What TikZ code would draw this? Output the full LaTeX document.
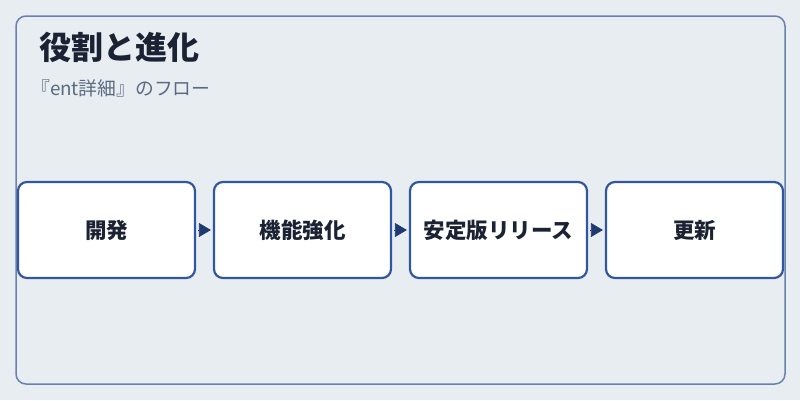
\documentclass[tikz,border=0pt]{standalone}
\usepackage{fontspec}
\setmainfont{Noto Sans CJK JP}
\usetikzlibrary{arrows.meta,positioning}
\definecolor{panelbg}{HTML}{E8EDF2}
\definecolor{panelline}{HTML}{6A82AB}
\definecolor{boxline}{HTML}{3356A0}
\definecolor{navy}{HTML}{1F3A6E}
\definecolor{ink}{HTML}{1A2233}
\definecolor{subink}{HTML}{5A6A80}
\tikzstyle{panel} = [draw=panelline, line width=1.5pt, rounded corners=10pt, fill=panelbg]
\tikzstyle{stagebox} = [draw=boxline, line width=2.2pt, rectangle, rounded corners=9pt, fill=white, minimum width=177pt, minimum height=96pt, text=ink, font=\fontsize{21.5}{25}\selectfont\bfseries, align=center]
\tikzstyle{arr} = [draw=navy, line width=0.8pt, -{Triangle[length=12pt,width=14pt]}, color=navy, shorten >=2pt, shorten <=2pt]

\begin{document}
\begin{tikzpicture}[x=1pt, y=-1pt, node distance=196pt]
    \useasboundingbox (0,0) rectangle (800,400);
    \fill[panelbg] (0,0) rectangle (800,400);
    \draw[panel] (16,16) rectangle (785,384);

    \node[anchor=west, inner sep=0pt, text=ink, font=\fontsize{32}{37}\selectfont\bfseries] (title) at (39,47) {役割と進化};
    \node[anchor=west, inner sep=0pt, text=subink, font=\fontsize{18.8}{22}\selectfont] (subtitle) at (31,88) {『ent詳細』のフロー};

    \node[stagebox] (s1) at (106.5,230) {開発};
    \node[stagebox, right of = s1] (s2) {機能強化};
    \node[stagebox, right of = s2] (s3) {安定版リリース};
    \node[stagebox, right of = s3] (s4) {更新};

    \draw[arr] (s1) -- (s2);
    \draw[arr] (s2) -- (s3);
    \draw[arr] (s3) -- (s4);
\end{tikzpicture}
\end{document}
